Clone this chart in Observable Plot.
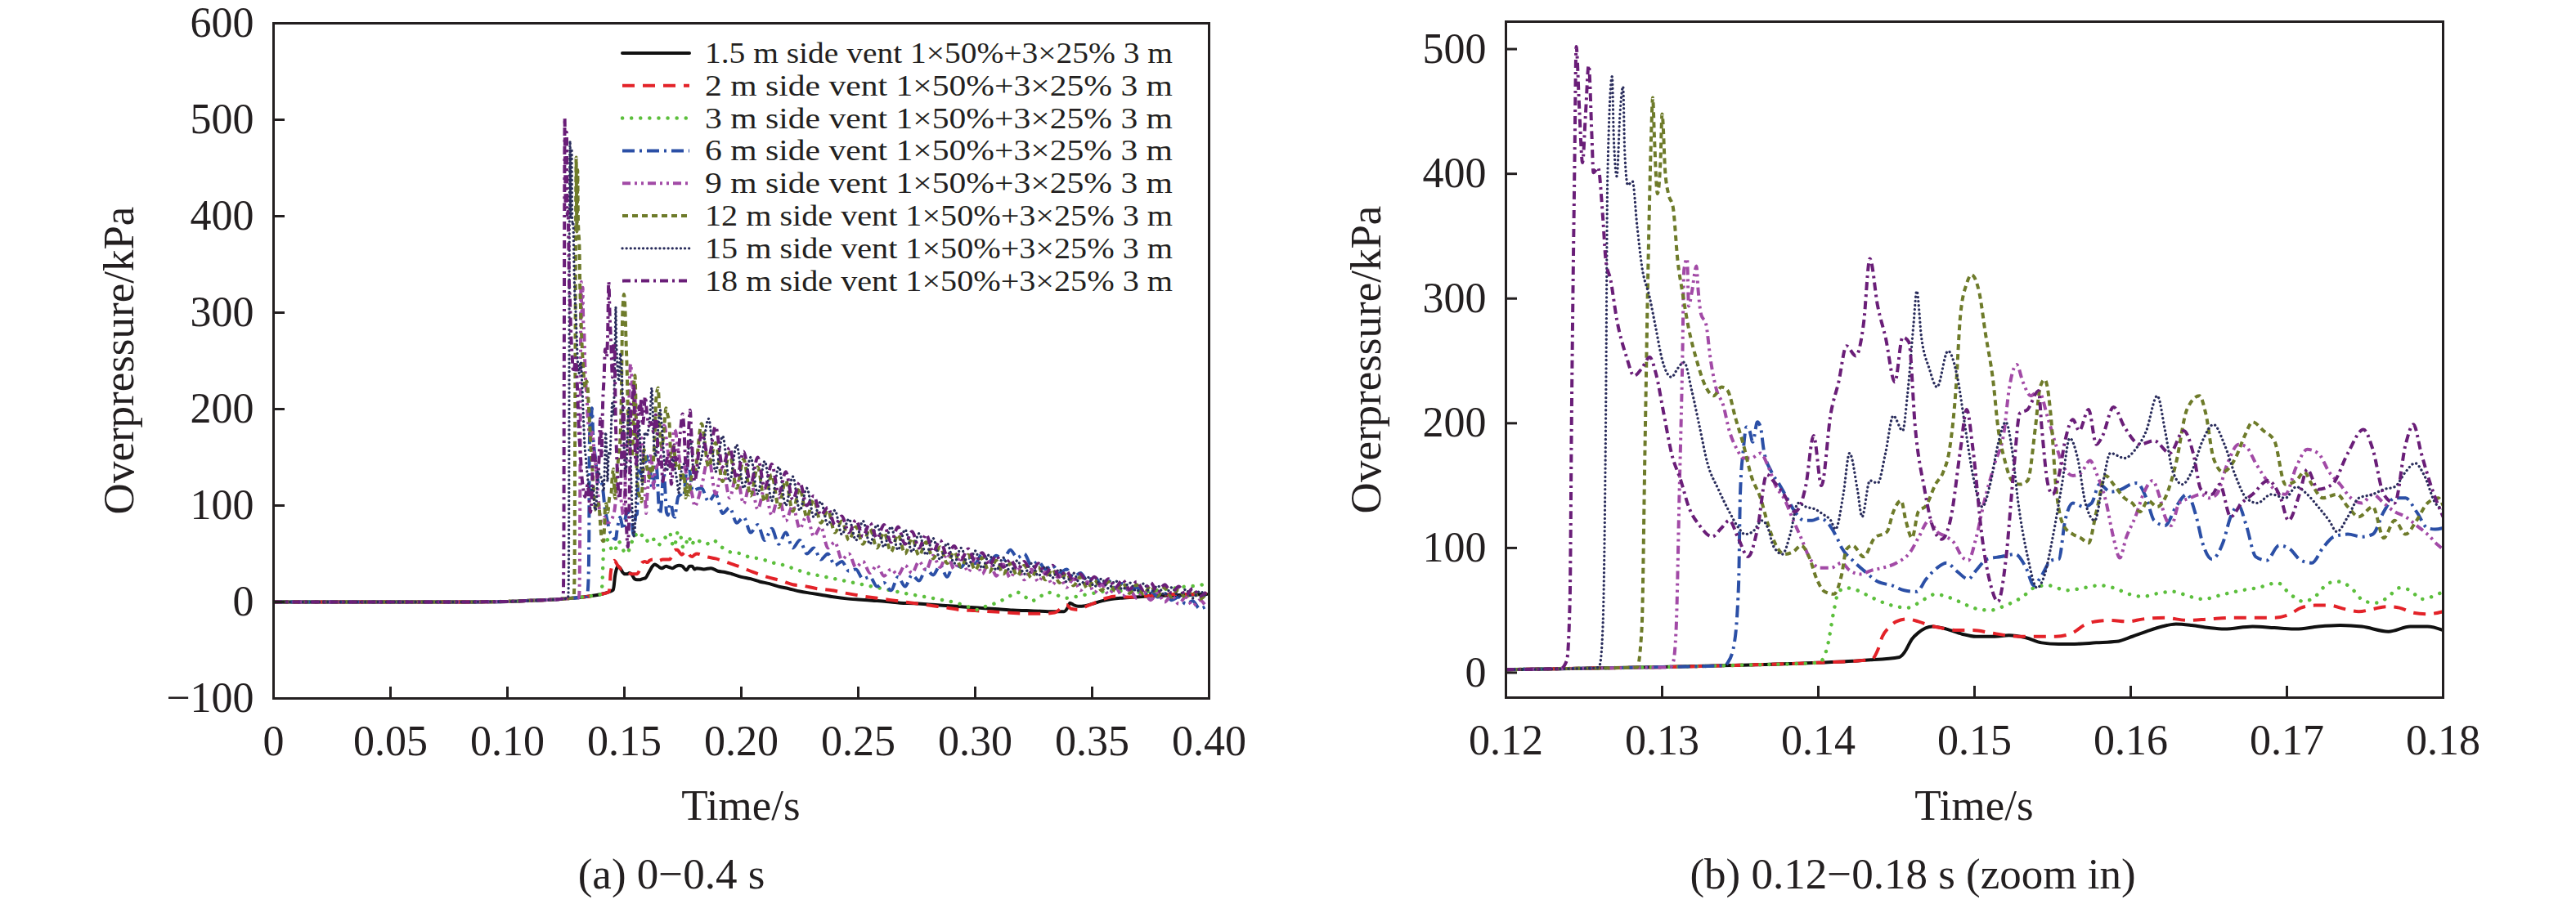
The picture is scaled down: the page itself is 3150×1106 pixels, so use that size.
<!DOCTYPE html>
<html><head><meta charset="utf-8">
<script src="https://cdn.jsdelivr.net/npm/d3@7"></script>
<script src="https://cdn.jsdelivr.net/npm/@observablehq/plot@0.6"></script>
<style>
html,body{margin:0;padding:0;background:#fff;}
#page{position:relative;width:3150px;height:1106px;overflow:hidden;background:#fff;}
.panel{position:absolute;top:0;width:1575px;height:1106px;}
#overlay{position:absolute;left:0;top:0;pointer-events:none;}
svg text{font-family:'Liberation Serif','Times New Roman',Times,serif;}
</style></head>
<body><div id="page"><div id="pa" class="panel" style="left:0"></div><div id="pb" class="panel" style="left:1575px"></div></div>
<script>
// ---------- series ----------
const seriesLabels = [
  "1.5 m side vent 1×50%+3×25% 3 m",
  "2 m side vent 1×50%+3×25% 3 m",
  "3 m side vent 1×50%+3×25% 3 m",
  "6 m side vent 1×50%+3×25% 3 m",
  "9 m side vent 1×50%+3×25% 3 m",
  "12 m side vent 1×50%+3×25% 3 m",
  "15 m side vent 1×50%+3×25% 3 m",
  "18 m side vent 1×50%+3×25% 3 m"
];
const seriesColors = ["#111111","#e32228","#5cbf3c","#2b4fa6","#a24aa6","#6e7b2a","#2a2d5c","#6a1e78"];
const seriesDash = ["none","15,10","0.1,11","15,6,3,6","10,5,3,5,3,5","7,5","0.1,5","10,5,3,5"];
const seriesCap = ["round","butt","round","butt","butt","butt","round","butt"];
const seriesWidth = [4,4,4.5,4,4,4,3.3,4];

// ---------- axes ----------
const xTicksA = [0,0.05,0.10,0.15,0.20,0.25,0.30,0.35,0.40];
const xLabelsA = ["0","0.05","0.10","0.15","0.20","0.25","0.30","0.35","0.40"];
const yTicksA = [-100,0,100,200,300,400,500,600];
const yLabelsA = ["\u2212100","0","100","200","300","400","500","600"];
const xTicksB = [0.12,0.13,0.14,0.15,0.16,0.17,0.18];
const xLabelsB = ["0.12","0.13","0.14","0.15","0.16","0.17","0.18"];
const yTicksB = [0,100,200,300,400,500];
const yLabelsB = ["0","100","200","300","400","500"];

// ---------- data (time in ms, overpressure in kPa) ----------
const headT = [0,20,40,60,80,90,100,105,110,115];
const headV = [0,0,0,0,0,0.2,0.5,0.9,1.4,2.0];

const det1 = [[120,2.5],[125,3.5],[130,4.5],[135,6],[140,8],[143,10],[145.2,12.5],[145.5,16],[146.0,27],[146.4,32],[147.3,37],[148.2,35],[149.2,31],[150.1,29],[151.3,29],[152.2,30],[153.3,28],[154.3,24],[155.4,23],[156.4,23],[157.8,24],[159.1,25],[160.1,29],[161.0,33],[162.0,37],[162.9,39],[163.9,38],[165.0,36],[166.0,35],[167.8,37],[169.2,36],[170.6,35],[172.0,37],[173.4,38],[174.8,37],[176.5,33],[177.9,37],[179.0,37],[180,34]];
const det2 = [[120,2.5],[125,3.5],[130,4.5],[135,6],[140,8],[143.4,10.5],[143.8,18],[144.1,29],[144.5,36],[145.0,41],[145.7,43],[146.4,41],[147.1,38],[147.8,36],[148.9,34],[149.9,34],[151.0,32],[152.0,30],[153.1,29],[154.1,29],[155.2,29],[156.3,32],[157.0,38],[157.7,41],[158.7,42],[159.8,41],[160.8,43],[162.2,44],[163.6,42],[165.0,43],[166.4,44],[167.8,44],[169.2,44],[170.2,47],[170.9,52],[171.8,54],[172.7,54],[173.7,51],[174.6,49],[175.5,51],[176.4,53],[177.2,52],[178.1,48],[179.0,47],[180,49]];
const det3 = [[120,2.5],[125,3.5],[130,4.5],[135,6],[140.0,8],[140.3,11],[140.6,22],[141.0,50],[141.3,65],[141.8,68],[142.5,66],[143.3,61],[144.0,57],[144.7,54],[145.7,52],[146.8,59],[147.5,63],[148.2,61],[149.2,56],[149.9,52],[151.0,50],[152.0,54],[153.1,61],[153.8,68],[154.7,70],[155.9,66],[157.0,68],[158.0,70],[158.9,68],[159.9,63],[160.8,61],[161.5,63],[162.7,65],[163.8,61],[164.6,59],[166.0,63],[167.1,66],[168.1,68],[169.4,72],[170.2,63],[171.1,57],[171.8,61],[172.7,72],[173.4,73],[174.1,68],[175.0,57],[175.8,56],[176.5,61],[177.2,68],[177.9,66],[178.6,59],[179.3,61],[180,65]];
const det6 = [[120,2.5],[125,3.5],[130,4.5],[134.0,5.8],[134.2,8],[134.6,22],[134.9,72],[135.0,143],[135.2,179],[135.4,197],[135.6,194],[135.8,185],[136.1,201],[136.3,197],[136.5,179],[137.0,161],[137.5,151],[138.0,140],[138.5,129],[139.1,122],[139.6,122],[140.1,124],[140.6,120],[141.2,108],[141.5,100],[142.2,90],[142.9,82],[143.8,73],[144.7,70],[145.5,66],[146.3,65],[146.9,75],[147.6,84],[148.2,88],[148.9,81],[149.6,75],[150.1,82],[150.8,91],[151.7,93],[152.6,95],[153.3,84],[153.8,70],[154.3,78],[154.9,90],[155.4,91],[155.8,122],[156.3,136],[157.0,133],[157.5,136],[158.0,151],[158.7,145],[159.4,147],[160.0,151],[160.4,152],[161.0,140],[161.5,122],[162.2,118],[162.9,133],[163.6,143],[164.2,125],[164.6,104],[165.2,91],[165.9,104],[166.4,125],[166.9,134],[167.4,118],[168.0,93],[168.7,90],[169.5,102],[170.2,99],[170.9,90],[171.6,88],[172.3,100],[173.0,109],[173.9,111],[174.8,109],[175.5,111],[176.2,129],[176.9,140],[177.6,140],[178.3,129],[179.0,116],[179.5,115],[180,116]];
const det9 = [[120,2.5],[125,3.5],[130.5,4.4],[130.7,8],[130.9,36],[131.1,143],[131.3,251],[131.4,323],[131.6,332],[131.7,294],[131.9,305],[132.2,326],[132.3,308],[132.5,287],[132.8,280],[133.1,251],[133.5,226],[133.9,215],[134.3,194],[134.8,179],[135.2,172],[135.7,172],[136.3,176],[136.8,165],[137.3,149],[137.8,140],[138.4,122],[138.9,108],[139.4,93],[140.1,84],[140.8,84],[141.5,88],[142.0,82],[142.7,79],[143.4,82],[144.1,84],[145.0,88],[145.9,97],[146.4,108],[147.1,122],[147.6,113],[148.2,109],[148.7,104],[149.2,93],[149.6,90],[150.1,108],[150.6,136],[151.3,168],[151.9,194],[152.2,226],[152.7,247],[153.1,233],[153.6,222],[154.1,226],[154.7,204],[155.2,183],[155.7,165],[156.3,158],[156.8,160],[157.4,170],[157.8,160],[158.4,138],[158.9,108],[159.3,92],[159.7,108],[160.3,125],[160.8,143],[161.4,154],[161.8,143],[162.2,125],[162.6,118],[163.1,136],[163.8,140],[164.5,143],[165.0,140],[165.5,143],[166.2,168],[166.9,183],[167.4,181],[168.0,168],[168.5,158],[169.2,147],[169.9,143],[170.6,165],[171.3,179],[172.0,176],[172.7,161],[173.4,151],[174.1,140],[174.8,136],[175.5,143],[176.2,136],[176.9,129],[177.6,125],[178.3,118],[179.0,111],[179.7,102],[180,99]];
const det12 = [[120,2.5],[125,3.5],[128.4,4.2],[128.7,36],[128.9,179],[129.1,323],[129.3,430],[129.4,461],[129.5,430],[129.7,384],[129.9,412],[130.0,448],[130.2,401],[130.4,384],[130.7,373],[131.0,330],[131.3,305],[131.7,276],[132.2,251],[132.8,229],[133.3,222],[133.8,229],[134.2,226],[134.7,204],[135.2,183],[135.7,158],[136.3,140],[136.8,118],[137.3,102],[137.8,95],[138.4,97],[138.9,102],[139.4,93],[139.9,75],[140.4,65],[141.0,63],[141.5,79],[141.8,99],[142.2,102],[142.9,93],[143.6,108],[144.4,113],[144.8,129],[145.3,138],[145.6,122],[146.0,108],[146.4,129],[146.9,134],[147.5,151],[148.0,161],[148.4,179],[148.8,226],[149.1,287],[149.5,312],[149.8,319],[150.3,305],[150.7,272],[151.2,233],[151.5,197],[151.9,172],[152.4,154],[152.9,151],[153.4,154],[153.9,197],[154.2,229],[154.5,235],[154.9,204],[155.2,151],[155.7,118],[156.3,111],[156.8,108],[157.3,104],[157.8,129],[158.4,158],[158.9,151],[159.6,140],[160.1,136],[160.6,129],[161.1,138],[161.7,133],[162.2,140],[162.9,168],[163.6,211],[164.4,222],[164.8,208],[165.3,172],[165.9,161],[166.7,172],[167.3,190],[167.8,201],[168.5,194],[169.2,186],[169.9,151],[170.6,154],[171.1,161],[171.6,151],[172.3,140],[173.2,143],[173.9,133],[174.6,125],[175.5,133],[176.2,108],[176.9,122],[177.6,111],[178.3,122],[179.0,136],[179.7,140],[180,134]];
const det15 = [[120,2.5],[125.8,3.8],[126.0,6],[126.2,36],[126.4,215],[126.5,394],[126.8,478],[126.9,430],[127.1,398],[127.3,448],[127.5,470],[127.6,419],[127.8,391],[128.1,394],[128.4,358],[128.7,326],[129.2,301],[129.6,276],[130.0,251],[130.6,237],[131.0,244],[131.4,249],[131.9,226],[132.4,197],[132.9,168],[133.6,147],[134.3,129],[134.9,116],[135.3,111],[135.8,113],[136.4,122],[136.8,115],[137.1,102],[137.7,95],[138.2,111],[138.7,136],[139.2,133],[139.8,131],[140.3,127],[140.8,122],[141.1,115],[141.6,143],[142.0,176],[142.5,147],[142.8,125],[143.3,154],[143.8,152],[144.3,176],[144.8,206],[145.4,194],[145.7,222],[146.1,280],[146.3,306],[146.6,269],[147.1,244],[147.6,229],[148.3,258],[148.9,237],[149.4,197],[149.9,158],[150.5,133],[151.0,151],[151.5,183],[152.0,201],[152.4,179],[152.8,136],[153.4,93],[154.0,68],[154.5,79],[155.0,108],[155.6,151],[156.1,188],[156.6,172],[157.1,136],[157.7,122],[158.2,151],[158.7,176],[159.6,172],[160.3,179],[161.0,194],[161.7,222],[162.2,194],[162.7,161],[163.3,151],[163.9,161],[164.6,186],[165.3,199],[166.0,183],[166.7,158],[167.4,140],[168.1,136],[169.0,143],[169.9,140],[170.6,149],[171.3,143],[172.0,133],[172.7,122],[173.2,113],[173.9,125],[174.6,140],[175.5,143],[176.2,147],[176.9,149],[177.6,161],[178.2,168],[178.8,158],[179.5,136],[180,131]];
const det18 = [[120,2.5],[123.5,3.3],[123.9,10],[124.1,60],[124.2,200],[124.4,412],[124.5,502],[124.7,452],[124.9,409],[125.1,448],[125.3,487],[125.5,430],[125.6,401],[125.9,405],[126.2,366],[126.4,330],[126.7,315],[127.1,283],[127.7,254],[128.2,238],[128.7,244],[129.2,253],[129.6,240],[130.1,208],[130.6,176],[131.2,154],[131.7,133],[132.4,118],[133.2,109],[133.8,116],[134.3,122],[134.9,107],[135.5,93],[136.1,115],[136.7,159],[137.1,154],[137.8,143],[138.5,129],[139.2,150],[139.7,190],[140.2,150],[140.8,208],[141.3,233],[141.8,262],[142.4,254],[142.9,280],[143.3,332],[143.8,294],[144.3,269],[144.9,233],[145.4,269],[145.8,265],[146.2,197],[146.8,147],[147.3,118],[147.9,107],[148.5,125],[149.1,179],[149.5,211],[149.9,179],[150.5,107],[151.0,72],[151.5,57],[152.0,90],[152.5,161],[152.9,208],[153.4,211],[154.1,226],[154.3,197],[154.7,151],[155.0,143],[155.4,158],[155.8,186],[156.3,203],[156.7,194],[157.3,211],[157.8,183],[158.2,190],[158.9,213],[159.6,197],[160.6,183],[161.5,186],[162.5,176],[163.4,194],[164.0,176],[164.5,147],[165.2,143],[165.7,151],[166.4,125],[167.1,136],[167.8,143],[168.8,154],[169.6,140],[170.1,122],[170.8,143],[171.3,163],[172.0,147],[172.9,151],[173.9,176],[174.9,195],[175.5,179],[176.2,143],[176.9,136],[177.6,183],[178.1,199],[178.6,176],[179.3,147],[180,125]];

// tails after 0.18 s (panel a only)
const tail1 = [[181,35],[184,34],[187,35],[190,32],[193,31],[196,29],[200,26],[204,24],[208,21],[212,19],[216,16],[220,14],[225,11],[230,9],[235,7],[240,5],[245,3.5],[250,2.5],[256,1.5],[262,0.5],[268,-1],[274,-1.5],[280,-2.5],[286,-3.5],[292,-4.5],[298,-5.5],[304,-6.5],[310,-7.5],[316,-8.5],[322,-9],[328,-9.5],[334,-10],[338,-10],[339.5,-6],[340.5,-1],[342,-3],[344,-4.5],[347,-4],[350,-2],[354,1],[358,3],[362,4],[368,5],[374,6],[380,6.5],[386,7],[392,7.5],[399,8]];
const tail2 = [[181,50],[185,47],[189,45],[194,41],[200,36],[205,31],[211,26],[217,22],[222,18],[226,17],[232,14],[239,12],[245,9],[252,6],[258,4],[264,2],[270,0],[276,-2],[282,-4],[288,-6],[293,-8],[300,-9],[307,-10],[314,-11],[321,-12],[329,-12],[334,-11],[337,-6],[339,-3],[341,-7],[344,-8],[348,-4],[352,0],[356,4],[360,6],[366,5],[372,6],[378,7],[385,8],[392,8],[399,9]];
const tail3 = [[185,60],[188,64],[191,58],[195,52],[200,50],[204,46],[208,45],[213,41],[217,39],[222,35],[228,30],[234,27],[240,24],[246,21],[252,18],[258,15],[264,12],[270,9],[277,6],[284,3],[292,-1],[297,-5],[301,-8],[305,-4],[309,-1],[314,5],[318,10],[321,6],[324,1],[328,6],[331,10],[335,7],[339,4],[344,6],[348,8],[353,10],[358,12],[364,11],[371,10],[377,12],[384,14],[390,16],[395,17],[399,19]];
const tailT = [183,186,189,192,195,198,201,204,207,210,213,216,219,222,225,228,231,234,237,240,243,246,249,252,255,258,261,264,267,270,273,276,279,282,285,288,291,294,297,300,303,306,309,312,315,318,321,324,327,330,333,336,339,342,345,348,351,354,357,360,363,366,369,372,375,378,381,384,387,390,393,396,399];
const tail6 = [118,104,112,92,98,82,88,72,80,64,76,60,72,56,64,50,56,44,50,38,42,32,34,24,26,16,20,12,26,16,28,22,34,28,38,26,40,36,46,40,50,42,48,44,54,46,50,38,42,34,38,30,34,26,30,22,26,18,22,14,19,11,15,8,12,5,9,2,5,-2,1,-7,-4];
const tail9 = [120,150,112,140,108,132,102,126,96,118,90,110,84,100,76,90,68,78,56,62,44,50,36,42,30,38,27,34,28,38,30,42,33,48,36,50,34,48,31,45,29,42,27,39,25,37,23,34,21,31,18,28,15,24,12,21,10,18,8,15,6,13,4,11,2,9,0,7,-2,5,-4,2,-6];
const tail12 = [185,140,165,125,155,118,148,110,140,104,132,98,126,94,118,88,106,82,95,72,84,64,78,60,76,56,72,52,70,50,66,48,62,45,57,40,52,36,49,33,46,31,43,29,40,27,38,25,36,23,34,20,30,17,26,14,23,12,21,11,20,9,18,8,17,6,15,5,13,4,12,3,9];
const tail15 = [150,190,135,172,125,163,118,150,112,146,105,140,100,130,95,118,88,104,80,95,70,86,64,84,60,80,57,78,54,75,52,71,49,66,44,61,40,56,37,53,35,49,33,46,31,43,29,40,27,37,25,34,21,30,18,26,16,24,14,22,13,20,11,19,9,17,7,15,6,13,4,11,5];
const tail18 = [175,150,182,140,160,128,156,122,150,118,143,112,135,106,124,100,110,90,98,80,89,72,85,68,82,66,80,62,78,60,73,56,70,52,64,48,58,44,55,42,51,38,48,36,44,34,42,31,40,29,38,26,32,22,29,19,26,17,24,15,23,13,21,12,20,10,18,9,16,7,14,6,11];

// ---------- assemble ----------
const details = [det1, det2, det3, det6, det9, det12, det15, det18];
const gridTail = v => tailT.map((t, i) => [t, v[i]]);
const tails = [tail1, tail2, tail3, gridTail(tail6), gridTail(tail9), gridTail(tail12), gridTail(tail15), gridTail(tail18)];
const toRows = pts => pts.map(([t, v]) => ({t: t / 1000, v}));
const fullRows = k => toRows(headT.map((t, i) => [t, headV[i]]).concat(details[k], tails[k]));
const zoomRows = k => toRows(details[k]);

const ink = "#231f20";
const FONT = "'Liberation Serif','Times New Roman',Times,serif";

function lineMarks(getRows) {
  return seriesLabels.map((s, k) => Plot.line(getRows(k), {
    x: "t", y: "v", stroke: seriesColors[k], strokeWidth: seriesWidth[k],
    strokeDasharray: seriesDash[k], strokeLinecap: seriesCap[k], strokeLinejoin: "round",
    curve: "monotone-x", clip: true
  }));
}

function panel({xDomain, yDomain, xTicks, xLabels, yTicks, yLabels, mL, mR, mT, mB, rows}) {
  const W = 1575, H = 1106;
  const innerW = W - mL - mR, innerH = H - mT - mB;
  return Plot.plot({
    width: W, height: H,
    marginLeft: mL, marginRight: mR, marginTop: mT, marginBottom: mB,
    x: {domain: xDomain},
    y: {domain: yDomain},
    style: {fontFamily: FONT, fontSize: "52px", color: ink, background: "transparent", maxWidth: "none", overflow: "visible"},
    marks: [
      ...lineMarks(rows),
      Plot.ruleX(xTicks, {stroke: ink, strokeWidth: 3, insetTop: innerH - 14}),
      Plot.ruleY(yTicks, {stroke: ink, strokeWidth: 3, insetRight: innerW - 14}),
      Plot.frame({stroke: ink, strokeWidth: 3}),
      Plot.axisX({ticks: xTicks, tickFormat: d => xLabels[xTicks.indexOf(d)], tickSize: 0, tickPadding: 33, fontSize: 52, fontFamily: FONT, fill: ink, label: null}),
      Plot.axisY({ticks: yTicks, tickFormat: d => yLabels[yTicks.indexOf(d)], tickSize: 0, tickPadding: 24, fontSize: 52, fontFamily: FONT, fill: ink, label: null})
    ]
  });
}

document.getElementById("pa").appendChild(panel({
  xDomain: [0, 0.4], yDomain: [-100, 600], xTicks: xTicksA, xLabels: xLabelsA, yTicks: yTicksA, yLabels: yLabelsA,
  mL: 334, mR: 97, mT: 28, mB: 252, rows: fullRows
}));
document.getElementById("pb").appendChild(panel({
  xDomain: [0.12, 0.18], yDomain: [-20, 522], xTicks: xTicksB, xLabels: xLabelsB, yTicks: yTicksB, yLabels: yLabelsB,
  mL: 266, mR: 163, mT: 26, mB: 253, rows: zoomRows
}));

// ---------- overlay: axis titles, captions, legend ----------
const svg = d3.create("svg").attr("id", "overlay").attr("width", 3150).attr("height", 1106);
const texts = [
  {t: "Overpressure/kPa", x: 163, y: 441, rot: true},
  {t: "Overpressure/kPa", x: 1688, y: 440, rot: true},
  {t: "Time/s", x: 906, y: 1003},
  {t: "Time/s", x: 2414, y: 1003},
  {t: "(a) 0\u22120.4 s", x: 821, y: 1087},
  {t: "(b) 0.12\u22120.18 s (zoom in)", x: 2339, y: 1087}
];
for (const d of texts) {
  svg.append("text").attr("text-anchor", "middle").attr("font-size", 53)
    .attr("font-family", FONT).attr("fill", ink)
    .attr("transform", d.rot ? `translate(${d.x},${d.y}) rotate(-90)` : `translate(${d.x},${d.y})`)
    .text(d.t);
}
const lg = svg.append("g");
seriesLabels.forEach((s, k) => {
  const y = 65 + 39.8 * k;
  lg.append("line").attr("x1", 761).attr("x2", 843).attr("y1", y).attr("y2", y)
    .attr("stroke", seriesColors[k]).attr("stroke-width", seriesWidth[k])
    .attr("stroke-dasharray", seriesDash[k]).attr("stroke-linecap", seriesCap[k]);
  const w = s.startsWith("1") && s.length > 31 ? 600 : 575;
  lg.append("text").attr("x", 862).attr("y", y + 12).attr("font-size", 35.5)
    .attr("font-family", FONT).attr("fill", ink)
    .attr("textLength", s.length >= 32 ? 608 : 572).attr("lengthAdjust", "spacingAndGlyphs")
    .text(s);
});
document.getElementById("page").appendChild(svg.node());
</script>
</body></html>
